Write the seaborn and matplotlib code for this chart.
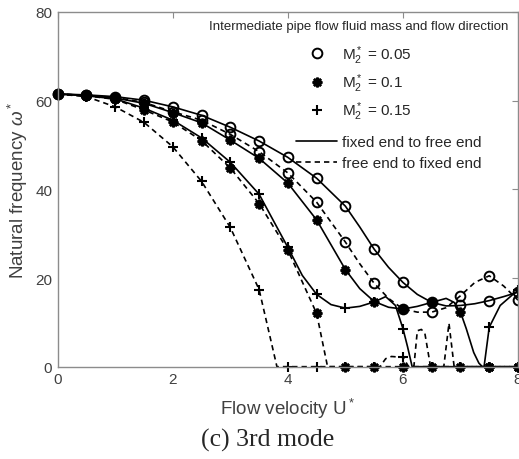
import matplotlib
matplotlib.use("Agg")
import matplotlib.pyplot as plt
from matplotlib.lines import Line2D
import pandas as pd
import seaborn as sns

# Flow velocity at which each marker is placed
u_marks = [0, 0.5, 1, 1.5, 2, 2.5, 3, 3.5, 4, 4.5, 5, 5.5, 6, 6.5, 7, 7.5, 8]

# Marker values of the 3rd-mode natural frequency
fix05 = [61.5, 61.3, 60.9, 60.1, 58.6, 56.7, 54.0, 50.9, 47.2, 42.5, 36.2, 26.5, 19.0, 14.5, 13.8, 14.9, 16.8]
free05 = [61.5, 61.2, 60.7, 59.6, 57.5, 55.6, 52.4, 48.5, 43.7, 37.1, 28.1, 18.8, 13.0, 12.3, 16.0, 20.5, 15.0]
fix10 = [61.5, 61.2, 60.6, 59.4, 57.3, 55.0, 51.1, 47.0, 41.4, 33.1, 21.9, 14.7, 13.0, 14.5, 12.3, 0, 0]
free10 = [61.5, 61.1, 60.3, 57.9, 55.2, 51.0, 44.8, 36.8, 26.3, 12.0, 0, 0, 0, 0, 0, 0, 0]
fix15 = [61.5, 61.1, 60.4, 58.3, 55.6, 51.6, 46.1, 38.9, 26.9, 16.3, 13.2, 14.6, 8.6, 0, 0, 8.9, 17.2]
free15 = [61.5, 60.9, 58.6, 55.1, 49.6, 41.8, 31.4, 17.4, 0, 0, 0, 0, 2.1, 0, 0, 0, 0]

# Continuous solution curves
fix05_u = [0, 0.5, 1, 1.5, 2, 2.5, 3, 3.5, 4, 4.5, 5, 5.25, 5.5, 5.75, 6, 6.25, 6.5, 6.75, 7, 7.25, 7.5, 7.75, 8]
fix05_w = [61.5, 61.3, 60.9, 60.1, 58.6, 56.7, 54.0, 50.9, 47.2, 42.5, 36.2, 31.5, 26.5, 22.4, 19.0, 16.3, 14.5, 13.7, 13.8, 14.2, 14.9, 15.8, 16.8]
free05_u = [0, 0.5, 1, 1.5, 2, 2.5, 3, 3.5, 4, 4.5, 5, 5.25, 5.5, 5.75, 6, 6.25, 6.5, 6.75, 7, 7.25, 7.5, 7.75, 8]
free05_w = [61.5, 61.2, 60.7, 59.6, 57.5, 55.6, 52.4, 48.5, 43.7, 37.1, 28.1, 23.2, 18.8, 15.4, 13.0, 12.3, 12.3, 13.3, 16.0, 19.0, 20.5, 18.2, 15.0]
fix10_u = [0, 0.5, 1, 1.5, 2, 2.5, 3, 3.5, 4, 4.5, 5, 5.25, 5.5, 5.75, 6, 6.25, 6.5, 6.75, 6.89, 7, 7.1, 7.23, 7.32, 7.38, 8]
fix10_w = [61.5, 61.2, 60.6, 59.4, 57.3, 55.0, 51.1, 47.0, 41.4, 33.1, 21.9, 17.6, 14.7, 13.4, 13.0, 13.6, 14.5, 15.4, 14.5, 12.3, 8.6, 3.2, 0.8, 0, 0]
free10_u = [0, 0.5, 1, 1.5, 2, 2.5, 3, 3.5, 4, 4.5, 4.69, 6.71, 6.8, 6.89, 8]
free10_w = [61.5, 61.1, 60.3, 57.9, 55.2, 51.0, 44.8, 36.8, 26.3, 12.0, 0, 0, 9.8, 0, 0]
fix15_u = [0, 0.5, 1, 1.5, 2, 2.5, 3, 3.5, 4, 4.25, 4.5, 4.75, 5, 5.25, 5.5, 5.7, 5.87, 6, 6.08, 6.16, 7.41, 7.5, 7.69, 7.92, 8]
fix15_w = [61.5, 61.1, 60.4, 58.3, 55.6, 51.6, 46.1, 38.9, 26.9, 20.6, 16.3, 14.0, 13.2, 13.6, 14.6, 15.8, 13.8, 8.6, 4.5, 0, 0, 8.9, 13.8, 16.4, 17.2]
free15_u = [0, 0.5, 1, 1.5, 2, 2.5, 3, 3.5, 3.81, 5.6, 5.7, 5.8, 6, 6.1, 6.19, 6.25, 6.32, 6.38, 6.48, 8]
free15_w = [61.5, 60.9, 58.6, 55.1, 49.6, 41.8, 31.4, 17.4, 0, 0, 1.8, 2.3, 2.1, 0, 0, 8.1, 8.4, 7.6, 0, 0]

masses = ["0.05", "0.1", "0.15"]
directions = ["fixed end to free end", "free end to fixed end"]

sns.set_style("white")
plt.rcParams["font.family"] = ["Liberation Sans", "DejaVu Sans"]
plt.rcParams["mathtext.fontset"] = "custom"
plt.rcParams["mathtext.rm"] = "Liberation Sans"
plt.rcParams["mathtext.it"] = "Liberation Sans:italic"
plt.rcParams["mathtext.bf"] = "Liberation Sans:bold"

curves = {
    ("0.05", directions[0]): (fix05_u, fix05_w),
    ("0.05", directions[1]): (free05_u, free05_w),
    ("0.1", directions[0]): (fix10_u, fix10_w),
    ("0.1", directions[1]): (free10_u, free10_w),
    ("0.15", directions[0]): (fix15_u, fix15_w),
    ("0.15", directions[1]): (free15_u, free15_w),
}
marks = {
    ("0.05", directions[0]): fix05, ("0.05", directions[1]): free05,
    ("0.1", directions[0]): fix10, ("0.1", directions[1]): free10,
    ("0.15", directions[0]): fix15, ("0.15", directions[1]): free15,
}

line_rows = []
for (m, d), (us, ws) in curves.items():
    for u, w in zip(us, ws):
        line_rows.append({"U": u, "omega": w, "mass": m, "direction": d})
lines_df = pd.DataFrame(line_rows)

mark_rows = []
for (m, d), ws in marks.items():
    for u, w in zip(u_marks, ws):
        mark_rows.append({"U": u, "omega": w, "mass": m, "direction": d})
marks_df = pd.DataFrame(mark_rows)

fig = plt.figure(figsize=(5.19, 4.60), dpi=100)
ax = fig.add_axes([0.1112, 0.2007, 0.8869, 0.7711])

DASH = (3.2, 2.4)
sns.lineplot(data=lines_df, x="U", y="omega", hue="mass", style="direction",
             palette={m: "black" for m in masses},
             dashes={directions[0]: "", directions[1]: DASH},
             estimator=None, sort=False, linewidth=1.2, legend=False,
             ax=ax, clip_on=False)

marker_style = {
    "0.05": dict(marker="o", markersize=7, markerfacecolor="none",
                 markeredgecolor="black", markeredgewidth=1.4),
    "0.1": dict(marker=(8, 2, 0), markersize=7, markerfacecolor="black",
                markeredgecolor="black", markeredgewidth=1.8),
    "0.15": dict(marker="+", markersize=7.5, markerfacecolor="black",
                 markeredgecolor="black", markeredgewidth=1.5),
}
for m in masses:
    sub = marks_df[marks_df["mass"] == m]
    sns.lineplot(data=sub, x="U", y="omega", units="direction", estimator=None,
                 sort=False, color="black", linestyle="", legend=False, ax=ax,
                 clip_on=False, **marker_style[m])

ax.set_xlim(0, 8)
ax.set_ylim(0, 80)
ax.set_xticks([0, 2, 4, 6, 8])
ax.set_yticks([0, 20, 40, 60, 80])

axis_gray = "#8c8c8c"
label_gray = "#404040"
for sp in ax.spines.values():
    sp.set_visible(True)
    sp.set_color(axis_gray)
    sp.set_linewidth(1.0)
ax.tick_params(direction="in", length=4, width=0.8, color=axis_gray,
               top=True, right=True, labelsize=11, labelcolor=label_gray, pad=4)

ax.set_xlabel(r"Flow velocity $\mathregular{U^*}$", fontsize=13.5, color=label_gray)
ax.set_ylabel(r"Natural frequency $\omega^*$", fontsize=13.5, color=label_gray)
ax.xaxis.set_label_coords(0.5, -0.083)
ax.yaxis.set_label_coords(-0.06, 0.5)

ax.text(0.979, 0.9605, "Intermediate pipe flow fluid mass and flow direction",
        transform=ax.transAxes, ha="right", va="center", fontsize=9.5)

mass_handles = [Line2D([], [], linestyle="", **marker_style[m]) for m in masses]
mass_labels = [r"$\mathregular{M_2^*}$ = " + m for m in masses]
leg1 = ax.legend(mass_handles, mass_labels, loc="upper left",
                 bbox_to_anchor=((296 - 57.7) / 460.3, (367.7 - 44) / 354.7),
                 frameon=False, fontsize=11, handlelength=2.7, handletextpad=0.3,
                 borderpad=0, borderaxespad=0, labelspacing=0.38)
ax.add_artist(leg1)

dir_handles = [Line2D([], [], color="black", linewidth=1.2),
               Line2D([], [], color="black", linewidth=1.2, dashes=DASH)]
ax.legend(dir_handles, directions, loc="upper left",
          bbox_to_anchor=((296 - 57.7) / 460.3, (367.7 - 136) / 354.7),
          frameon=False, fontsize=11, handlelength=2.7, handletextpad=0.3,
          borderpad=0, borderaxespad=0, labelspacing=0.48)

fig.text(268 / 519, 1 - 440 / 460, "(c) 3rd mode", ha="center", va="center",
         fontsize=18.5, family=["Liberation Serif", "DejaVu Serif"])

fig.savefig("out.png", dpi=100)
